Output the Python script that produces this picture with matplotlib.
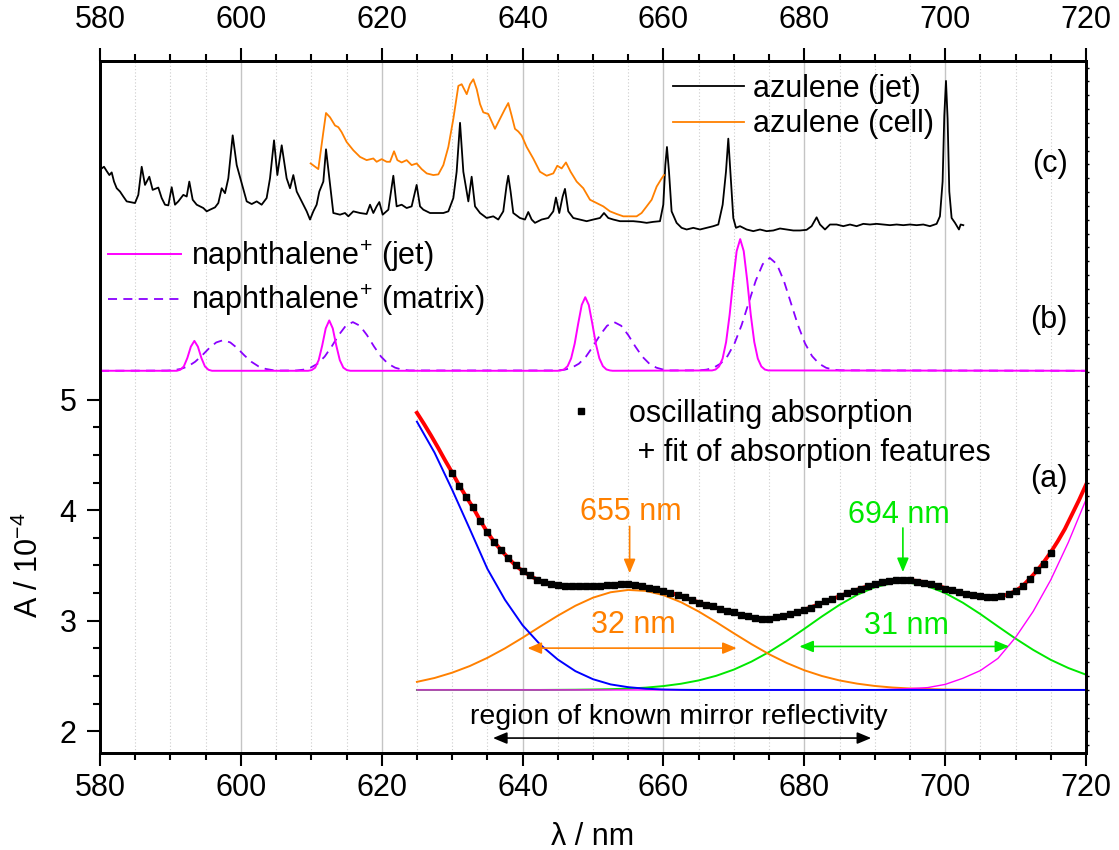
import matplotlib
matplotlib.use("Agg")
import matplotlib.pyplot as plt
import numpy as np
from matplotlib.lines import Line2D
from matplotlib.ticker import MultipleLocator, FixedLocator

plt.rcParams['font.family'] = ['Liberation Sans', 'DejaVu Sans']
plt.rcParams['mathtext.fontset'] = 'custom'
plt.rcParams['mathtext.rm'] = 'Liberation Sans'
plt.rcParams['mathtext.it'] = 'Liberation Sans:italic'
plt.rcParams['mathtext.bf'] = 'Liberation Sans:bold'

# (c) azulene, jet spectrum (offset trace)
jet_wl = [580.24, 580.57, 580.95, 581.33, 581.66, 581.99, 582.37, 582.84, 583.31, 583.79,
          584.26, 584.97, 585.44, 585.92, 586.39, 587.00, 587.48, 588.28, 588.76, 589.23,
          589.70, 590.18, 590.65, 591.12, 591.83, 592.31, 592.68, 593.16, 593.73, 594.67,
          595.15, 595.62, 596.33, 596.80, 597.28, 597.75, 598.22, 598.84, 599.41, 600.12,
          600.83, 601.54, 602.25, 602.95, 603.66, 604.14, 604.71, 605.18, 605.80, 606.50,
          606.98, 607.45, 607.93, 608.87, 609.35, 609.82, 610.29, 610.76, 611.14, 611.71,
          612.09, 612.56, 613.13, 614.08, 614.79, 615.26, 615.97, 616.92, 617.86, 618.34,
          618.81, 619.28, 619.66, 620.14, 620.94, 621.65, 622.12, 622.83, 623.54, 624.25,
          624.96, 625.44, 625.91, 626.86, 627.80, 628.75, 629.46, 630.17, 630.64, 631.12,
          631.59, 632.30, 632.77, 633.25, 633.96, 634.90, 635.84, 636.55, 637.26, 637.74,
          637.97, 638.30, 638.68, 639.63, 640.34, 640.81, 641.29, 641.76, 642.71, 643.65,
          644.36, 644.74, 645.21, 645.69, 646.02, 646.49, 647.20, 648.15, 649.10, 650.04,
          650.99, 651.56, 652.17, 652.88, 653.83, 654.78, 655.72, 656.67, 657.62, 658.56,
          659.51, 659.98, 660.27, 660.50, 660.79, 661.16, 661.87, 662.58, 663.30, 664.24,
          665.19, 666.13, 667.08, 667.79, 668.41, 668.88, 669.21, 669.54, 669.92, 670.30,
          670.87, 671.81, 672.76, 673.71, 674.65, 675.60, 676.55, 677.49, 678.44, 679.39,
          680.33, 681.04, 681.75, 682.23, 682.94, 683.65, 684.59, 685.54, 686.49, 687.43,
          688.38, 689.32, 690.27, 691.22, 692.16, 693.11, 694.06, 695.00, 695.95, 696.90,
          697.84, 698.79, 699.26, 699.64, 699.88, 700.12, 700.35, 700.59, 700.92, 701.40,
          701.96, 702.20, 702.58]
jet_val = [7.089, 7.104, 7.065, 7.029, 7.053, 6.970, 6.910, 6.880, 6.835, 6.791,
           6.785, 6.776, 6.850, 7.104, 6.940, 7.014, 6.895, 6.916, 6.821, 6.761,
           6.755, 6.919, 6.761, 6.791, 6.850, 6.835, 6.970, 6.806, 6.761, 6.731,
           6.701, 6.716, 6.737, 6.776, 6.910, 6.865, 7.000, 7.388, 7.119, 6.955,
           6.791, 6.767, 6.791, 6.761, 6.821, 7.000, 7.343, 7.029, 7.298, 7.000,
           6.910, 7.029, 6.880, 6.761, 6.701, 6.627, 6.701, 6.761, 6.880, 6.970,
           7.262, 7.000, 6.686, 6.671, 6.686, 6.656, 6.701, 6.686, 6.677, 6.761,
           6.686, 6.746, 6.785, 6.671, 6.716, 7.023, 6.746, 6.761, 6.731, 6.746,
           6.940, 6.746, 6.716, 6.686, 6.686, 6.686, 6.701, 6.821, 7.059, 7.501,
           7.059, 6.791, 7.014, 6.746, 6.686, 6.641, 6.656, 6.627, 6.701, 6.940,
           7.023, 6.880, 6.686, 6.641, 6.627, 6.695, 6.627, 6.597, 6.627, 6.641,
           6.701, 6.826, 6.686, 6.835, 6.904, 6.701, 6.641, 6.627, 6.612, 6.627,
           6.641, 6.686, 6.641, 6.627, 6.612, 6.612, 6.612, 6.606, 6.597, 6.606,
           6.612, 6.761, 7.119, 7.283, 7.059, 6.701, 6.597, 6.552, 6.537, 6.552,
           6.537, 6.552, 6.567, 6.582, 6.761, 7.059, 7.358, 7.029, 6.641, 6.552,
           6.567, 6.537, 6.522, 6.537, 6.522, 6.528, 6.546, 6.537, 6.528, 6.528,
           6.534, 6.567, 6.647, 6.582, 6.537, 6.582, 6.582, 6.567, 6.582, 6.567,
           6.588, 6.582, 6.588, 6.582, 6.576, 6.582, 6.576, 6.582, 6.576, 6.582,
           6.567, 6.588, 6.656, 6.970, 7.566, 7.880, 7.537, 6.880, 6.641, 6.597,
           6.537, 6.582, 6.576]

# (c) azulene, cell spectrum
cell_wl = [609.91, 611.00, 611.71, 612.09, 612.66, 613.37, 613.84, 614.31, 615.02, 615.97,
           616.92, 617.86, 618.81, 619.28, 619.99, 620.70, 621.18, 621.75, 622.22, 622.83,
           623.54, 624.25, 624.96, 625.67, 626.39, 627.33, 628.04, 628.75, 629.46, 630.17,
           630.88, 631.35, 632.07, 632.54, 633.01, 633.49, 633.96, 634.42, 635.13, 636.08,
           636.79, 637.50, 637.97, 638.45, 638.92, 639.39, 639.87, 640.58, 641.52, 642.47,
           643.42, 644.36, 644.93, 645.55, 646.16, 646.82, 647.68, 648.62, 649.57, 650.52,
           651.46, 652.41, 653.36, 654.30, 655.25, 656.19, 656.90, 657.62, 658.33, 659.04,
           659.75, 660.08]
cell_val = [7.134, 7.083, 7.417, 7.590, 7.551, 7.477, 7.462, 7.417, 7.328, 7.253,
            7.193, 7.164, 7.179, 7.149, 7.173, 7.149, 7.149, 7.244, 7.164, 7.143,
            7.164, 7.119, 7.134, 7.083, 7.044, 7.029, 7.035, 7.119, 7.283, 7.537,
            7.835, 7.850, 7.760, 7.850, 7.895, 7.805, 7.671, 7.596, 7.581, 7.447,
            7.537, 7.626, 7.680, 7.566, 7.447, 7.423, 7.387, 7.283, 7.178, 7.059,
            7.023, 7.044, 7.113, 7.089, 7.143, 7.059, 6.970, 6.910, 6.806, 6.776,
            6.746, 6.701, 6.677, 6.656, 6.656, 6.656, 6.686, 6.746, 6.806, 6.925,
            6.999, 7.029]

# (b) naphthalene+ (jet)
naph_jet_wl = [580.0,
               590.9, 591.4, 591.9, 592.4, 592.9, 593.4, 593.9, 594.4, 594.9, 595.4, 595.9,
               609.55, 610.05, 610.55, 611.05, 611.55, 612.05, 612.55, 613.05, 613.55, 614.05,
               614.55, 615.05, 615.55,
               645.0, 645.4, 645.9, 646.4, 646.9, 647.4, 647.9, 648.4, 648.9, 649.4, 649.9,
               650.4, 650.9, 651.4, 651.9, 652.4, 652.8,
               666.9, 667.4, 667.9, 668.4, 668.9, 669.4, 669.9, 670.4, 670.9, 671.4, 671.9,
               672.4, 672.9, 673.4, 673.9, 674.4, 674.9,
               720.0]
naph_jet_val = [5.26,
                5.26, 5.269, 5.299, 5.375, 5.478, 5.53, 5.478, 5.375, 5.299, 5.269, 5.26,
                5.26, 5.266, 5.288, 5.356, 5.488, 5.643, 5.715, 5.643, 5.488, 5.356,
                5.288, 5.266, 5.26,
                5.26, 5.263, 5.272, 5.302, 5.373, 5.505, 5.687, 5.855, 5.925, 5.855, 5.687,
                5.505, 5.373, 5.302, 5.272, 5.263, 5.26,
                5.263, 5.271, 5.299, 5.37, 5.52, 5.766, 6.074, 6.342, 6.45, 6.342, 6.074,
                5.766, 5.52, 5.37, 5.299, 5.271, 5.263,
                5.26]

# (b) naphthalene+ (matrix)
naph_mat_wl = [580.0,
               589.5, 590.5, 591.5, 592.5, 593.5, 594.5, 595.5, 596.5, 597.5, 598.5, 599.5,
               600.5, 601.5, 602.5, 603.5, 604.5, 605.5,
               607.9, 608.9, 609.9, 610.9, 611.9, 612.9, 613.9, 614.9, 615.9, 616.9, 617.9,
               618.9, 619.9, 620.9, 621.9, 622.9, 623.9,
               645.0, 646.0, 647.0, 648.0, 649.0, 650.0, 651.0, 652.0, 653.0, 654.0, 655.0,
               656.0, 657.0, 658.0, 659.0, 660.0, 661.0,
               665.1, 666.1, 667.1, 668.1, 669.1, 670.1, 671.1, 672.1, 673.1, 674.1, 675.1,
               676.1, 677.1, 678.1, 679.1, 680.1, 681.1, 682.1, 683.1, 684.1, 685.1,
               720.0]
naph_mat_val = [5.26,
                5.262, 5.266, 5.277, 5.30, 5.341, 5.399, 5.464, 5.516, 5.537, 5.516, 5.464,
                5.399, 5.341, 5.30, 5.277, 5.266, 5.262,
                5.263, 5.27, 5.288, 5.324, 5.388, 5.48, 5.583, 5.667, 5.70, 5.667, 5.583,
                5.48, 5.388, 5.324, 5.288, 5.27, 5.263,
                5.263, 5.27, 5.288, 5.324, 5.388, 5.48, 5.583, 5.667, 5.70, 5.667, 5.583,
                5.48, 5.388, 5.324, 5.288, 5.27, 5.263,
                5.264, 5.27, 5.287, 5.324, 5.393, 5.508, 5.673, 5.873, 6.073, 6.224, 6.28,
                6.224, 6.073, 5.873, 5.673, 5.508, 5.393, 5.324, 5.287, 5.27, 5.264,
                5.26]

# (a) oscillating absorption, one point per nm from 630 to 715 nm
osc_wl = np.arange(630, 716)
osc_val = [4.34, 4.22, 4.12, 4.03, 3.90, 3.80, 3.71, 3.64, 3.57, 3.50,
           3.45, 3.41, 3.37, 3.35, 3.335, 3.32, 3.31, 3.31, 3.31, 3.31,
           3.31, 3.315, 3.32, 3.325, 3.33, 3.33, 3.325, 3.31, 3.295, 3.285,
           3.27, 3.255, 3.235, 3.215, 3.19, 3.165, 3.145, 3.13, 3.11, 3.09,
           3.075, 3.055, 3.04, 3.025, 3.02, 3.02, 3.03, 3.045, 3.06, 3.08,
           3.10, 3.12, 3.15, 3.175, 3.195, 3.22, 3.25, 3.27, 3.29, 3.315,
           3.335, 3.35, 3.36, 3.37, 3.37, 3.365, 3.355, 3.345, 3.33, 3.31,
           3.29, 3.275, 3.26, 3.245, 3.23, 3.22, 3.215, 3.215, 3.225, 3.245,
           3.27, 3.31, 3.38, 3.46, 3.51, 3.61]

# (a) total fit, one point per nm from 625 to 720 nm
fit_wl = np.arange(625, 721)
fit_val = [4.88, 4.78, 4.675, 4.565, 4.45,
           4.34, 4.225, 4.12, 4.02, 3.905, 3.80, 3.71, 3.635, 3.565, 3.50,
           3.45, 3.41, 3.375, 3.35, 3.335, 3.32, 3.312, 3.308, 3.308, 3.31,
           3.312, 3.316, 3.32, 3.325, 3.328, 3.328, 3.322, 3.31, 3.296, 3.284,
           3.27, 3.253, 3.234, 3.212, 3.19, 3.167, 3.146, 3.127, 3.108, 3.09,
           3.073, 3.055, 3.04, 3.028, 3.021, 3.02, 3.027, 3.041, 3.058, 3.078,
           3.10, 3.123, 3.148, 3.173, 3.198, 3.222, 3.247, 3.27, 3.292, 3.313,
           3.332, 3.348, 3.36, 3.368, 3.371, 3.368, 3.36, 3.35, 3.335, 3.316,
           3.296, 3.278, 3.261, 3.245, 3.232, 3.222, 3.216, 3.215, 3.222, 3.24,
           3.27, 3.315, 3.38, 3.45, 3.53, 3.62,
           3.72, 3.83, 3.96, 4.09, 4.23]

# (a) fit components, one point per 2.5 nm from 625 to 720 nm
comp_wl = np.arange(625, 721, 2.5)
blue_val = [4.80, 4.52, 4.185, 3.83, 3.47, 3.19, 2.96, 2.785, 2.65, 2.545,
            2.472, 2.425, 2.40, 2.386, 2.379, 2.376, 2.375, 2.375, 2.375, 2.375,
            2.375, 2.375, 2.375, 2.375, 2.375, 2.375, 2.375, 2.375, 2.375, 2.375,
            2.375, 2.375, 2.375, 2.375, 2.375, 2.375, 2.375, 2.375, 2.375]
orange_val = [2.448, 2.483, 2.531, 2.591, 2.665, 2.751, 2.847, 2.948, 3.046, 3.136,
              3.209, 3.258, 3.279, 3.270, 3.232, 3.168, 3.084, 2.988, 2.887, 2.789,
              2.698, 2.619, 2.553, 2.501, 2.461, 2.432, 2.411, 2.397, 2.388, 2.383,
              2.379, 2.377, 2.376, 2.375, 2.375, 2.375, 2.375, 2.375, 2.375]
green_val = [2.375, 2.375, 2.375, 2.375, 2.375, 2.375, 2.375, 2.375, 2.376, 2.377,
             2.379, 2.382, 2.387, 2.396, 2.41, 2.431, 2.461, 2.503, 2.559, 2.631,
             2.718, 2.818, 2.927, 3.039, 3.144, 3.235, 3.303, 3.341, 3.344, 3.313,
             3.251, 3.164, 3.061, 2.949, 2.839, 2.737, 2.647, 2.573, 2.513]
magenta_val = [2.375, 2.375, 2.375, 2.375, 2.375, 2.375, 2.375, 2.375, 2.375, 2.375,
               2.375, 2.375, 2.375, 2.375, 2.375, 2.375, 2.375, 2.375, 2.375, 2.375,
               2.375, 2.375, 2.375, 2.375, 2.375, 2.375, 2.377, 2.381, 2.387, 2.396,
               2.425, 2.48, 2.55, 2.66, 2.85, 3.085, 3.37, 3.71, 4.095]

ORANGE = '#ff8000'
GREEN = '#00e800'
VIOLET = '#8a00ff'
FS = 22

fig = plt.figure(figsize=(11.19, 8.5), dpi=100)
ax = fig.add_axes([100/1119, 97/850, 986/1119, 692/850])

# right-hand axis carries only small ticks
ax_r = ax.twinx()

# grid
for x in range(580, 721, 5):
    if x % 20 == 0:
        ax.axvline(x, color='#c4c4c4', lw=1.0, zorder=0)
    else:
        ax.axvline(x, color='#cccccc', lw=0.8, ls=(0, (1, 2)), zorder=0)

# (c)
l_jet, = ax.plot(jet_wl, jet_val, color='black', lw=1.3)
l_cell, = ax.plot(cell_wl, cell_val, color=ORANGE, lw=1.3)

# (b)
l_nj, = ax.plot(naph_jet_wl, naph_jet_val, color='#ff00ff', lw=1.4, zorder=3)
l_nm, = ax.plot(naph_mat_wl, naph_mat_val, color=VIOLET, lw=1.3, ls=(0, (5, 3.5)), zorder=2)

# (a)
ax.plot(comp_wl, green_val, color=GREEN, lw=1.4)
ax.plot(comp_wl, orange_val, color=ORANGE, lw=1.4)
ax.plot(comp_wl, magenta_val, color='#ff00ff', lw=1.0)
ax.plot(comp_wl, blue_val, color='#0000ff', lw=1.4)
ax.plot(fit_wl, fit_val, color='#ff0000', lw=2.8)
l_osc, = ax.plot(osc_wl, osc_val, 's', color='black', ms=4.3, zorder=5)

ax.set_xlim(580, 720)
ax.set_ylim(1.805, 8.06)
ax_r.set_ylim(1.805, 8.06)

ax.set_xticks(range(580, 721, 20))
ax.xaxis.set_minor_locator(MultipleLocator(5))
ax.set_yticks([2, 3, 4, 5])
ax.yaxis.set_minor_locator(FixedLocator([2.25, 2.5, 2.75, 3.25, 3.5, 3.75, 4.25, 4.5, 4.75]))
ax.tick_params(axis='x', which='both', direction='out', labelsize=FS, width=1.5)
ax.tick_params(axis='x', which='major', length=9.5, pad=5)
ax.tick_params(axis='x', which='minor', length=5)
ax.tick_params(axis='y', which='both', direction='out', labelsize=FS, width=1.5)
ax.tick_params(axis='y', which='major', length=9.5, pad=7.5)
ax.tick_params(axis='y', which='minor', length=5)
ax_r.yaxis.set_major_locator(MultipleLocator(0.125))
ax_r.tick_params(axis='y', which='major', direction='out', length=2.5, width=1.0,
                 labelright=False)

# top axis with its own label distance
top = ax.secondary_xaxis('top')
top.set_xticks(range(580, 721, 20))
top.xaxis.set_minor_locator(MultipleLocator(5))
top.tick_params(axis='x', which='both', direction='out', labelsize=FS, width=1.5)
top.tick_params(axis='x', which='major', length=9.5, pad=9)
top.tick_params(axis='x', which='minor', length=5)

for a in (ax, ax_r, top):
    for s in a.spines.values():
        s.set_linewidth(2.0)

ax.set_xlabel('λ / nm', fontsize=FS)
ax.xaxis.set_label_coords(0.5, -0.1)
ax.set_ylabel(r'A / 10$^{-4}$', fontsize=FS)
ax.yaxis.set_label_coords(-0.056, 0.272)

# panel labels
ax.text(717.4, 7.13, '(c)', fontsize=FS, ha='right', va='center')
ax.text(717.4, 5.72, '(b)', fontsize=FS, ha='right', va='center')
ax.text(717.4, 4.28, '(a)', fontsize=FS, ha='right', va='center')

# legends
leg_c = ax.legend([l_jet, l_cell], ['azulene (jet)', 'azulene (cell)'], loc='upper left',
                  bbox_to_anchor=(0.581, 0.981), frameon=False, fontsize=FS,
                  handlelength=2.33, handletextpad=0.3, labelspacing=0.17,
                  borderpad=0, borderaxespad=0)
ax.add_artist(leg_c)
leg_b = ax.legend([l_nj, l_nm], ['naphthalene$^{+}$ (jet)', 'naphthalene$^{+}$ (matrix)'],
                  loc='upper left', bbox_to_anchor=(0.008, 0.744), frameon=False,
                  fontsize=FS, handlelength=2.39, handletextpad=0.32, labelspacing=0.3,
                  borderpad=0, borderaxespad=0)
ax.add_artist(leg_b)
blank = Line2D([], [], ls='none')
ax.legend([l_osc, blank], ['oscillating absorption', ' + fit of absorption features'],
          loc='upper left', bbox_to_anchor=(0.472, 0.512), frameon=False, fontsize=FS,
          handlelength=1.0, handletextpad=1.07, labelspacing=0.32,
          borderpad=0, borderaxespad=0)

# annotations
arrow1 = dict(arrowstyle='-|>,head_length=0.6,head_width=0.25', lw=1.2,
              shrinkA=0, shrinkB=0, mutation_scale=14)
arrow2 = dict(arrowstyle='<|-|>,head_length=0.6,head_width=0.25', lw=1.2,
              shrinkA=0, shrinkB=0, mutation_scale=14)
ax.text(655.3, 3.98, '655 nm', color=ORANGE, fontsize=FS, ha='center', va='center')
ax.annotate('', xy=(655.2, 3.43), xytext=(655.2, 3.853), arrowprops=dict(arrow1, color=ORANGE))
ax.text(693.4, 3.96, '694 nm', color=GREEN, fontsize=FS, ha='center', va='center')
ax.annotate('', xy=(694.0, 3.44), xytext=(694.0, 3.839), arrowprops=dict(arrow1, color=GREEN))
ax.text(655.8, 2.96, '32 nm', color=ORANGE, fontsize=FS, ha='center', va='center')
ax.annotate('', xy=(640.7, 2.753), xytext=(670.4, 2.753), arrowprops=dict(arrow2, color=ORANGE))
ax.text(694.5, 2.95, '31 nm', color=GREEN, fontsize=FS, ha='center', va='center')
ax.annotate('', xy=(679.3, 2.768), xytext=(709.1, 2.768), arrowprops=dict(arrow2, color=GREEN))
ax.text(662.2, 2.134, 'region of known mirror reflectivity', fontsize=20.5,
        ha='center', va='center')
ax.annotate('', xy=(635.8, 1.94), xytext=(689.5, 1.94), arrowprops=dict(arrow2, color='black'))

fig.savefig('out.png', dpi=100)
